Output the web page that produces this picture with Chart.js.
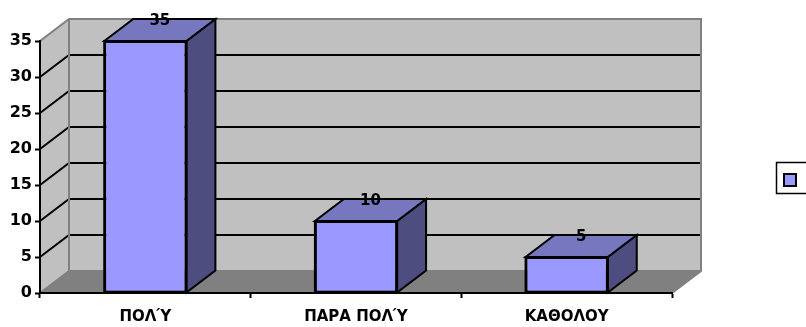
<!DOCTYPE html>
<html>
<head>
<meta charset="utf-8">
<script src="https://cdn.jsdelivr.net/npm/chart.js@4/dist/chart.umd.min.js"></script>
<style>
  body { margin: 0; background: #fff; }
  #wrap { width: 806px; height: 327px; }
</style>
</head>
<body>
<div id="wrap"><canvas id="bar-chart"></canvas></div>
<script>
// data
const categories = ['ΠΟΛΎ', 'ΠΑΡΑ ΠΟΛΎ', 'ΚΑΘΟΛΟΥ'];
const answers = [35, 10, 5];
const yTicks = [0, 5, 10, 15, 20, 25, 30, 35];

// depth of the fake 3d box
const DX = 29, DY = -22;
const FONT = 'DejaVu Sans';

const excel3d = {
  id: 'excel3d',
  beforeDraw(chart) {
    const ctx = chart.ctx;
    const a = chart.chartArea;
    const y = chart.scales.y;
    ctx.save();
    // left wall
    ctx.fillStyle = '#c0c0c0';
    ctx.beginPath();
    ctx.moveTo(a.left, a.bottom);
    ctx.lineTo(a.left, a.top);
    ctx.lineTo(a.left + DX, a.top + DY);
    ctx.lineTo(a.left + DX, a.bottom + DY);
    ctx.closePath();
    ctx.fill();
    // back wall
    ctx.fillRect(a.left + DX, a.top + DY, a.right - a.left, a.bottom - a.top);
    // floor
    ctx.fillStyle = '#808080';
    ctx.beginPath();
    ctx.moveTo(a.left, a.bottom);
    ctx.lineTo(a.left + DX, a.bottom + DY);
    ctx.lineTo(a.right + DX, a.bottom + DY);
    ctx.lineTo(a.right, a.bottom);
    ctx.closePath();
    ctx.fill();

    // gridlines on the walls
    ctx.lineWidth = 2;
    ctx.strokeStyle = '#000';
    yTicks.forEach(v => {
      if (v === 0 || v === y.max) return;
      const py = y.getPixelForValue(v);
      ctx.beginPath();
      ctx.moveTo(a.left, py);
      ctx.lineTo(a.left + DX, py + DY);
      ctx.lineTo(a.right + DX, py + DY);
      ctx.stroke();
    });

    // wall edges
    ctx.strokeStyle = '#808080';
    ctx.beginPath();
    ctx.moveTo(a.left, a.top);
    ctx.lineTo(a.left + DX, a.top + DY);
    ctx.lineTo(a.right + DX, a.top + DY);
    ctx.lineTo(a.right + DX, a.bottom + DY);
    ctx.lineTo(a.right, a.bottom);
    ctx.moveTo(a.left + DX, a.top + DY);
    ctx.lineTo(a.left + DX, a.bottom + DY);
    ctx.lineTo(a.right + DX, a.bottom + DY);
    ctx.moveTo(a.left, a.bottom);
    ctx.lineTo(a.left + DX, a.bottom + DY);
    ctx.stroke();
    ctx.restore();
  },
  afterDatasetsDraw(chart) {
    const ctx = chart.ctx;
    const meta = chart.getDatasetMeta(0);
    ctx.save();
    ctx.lineWidth = 2;
    ctx.strokeStyle = '#000';
    ctx.lineJoin = 'miter';
    meta.data.forEach((bar, i) => {
      const p = bar.getProps(['x', 'y', 'base', 'width'], true);
      const l = p.x - p.width / 2, r = p.x + p.width / 2;
      // side face
      ctx.fillStyle = '#4d4d80';
      ctx.beginPath();
      ctx.moveTo(r, p.y);
      ctx.lineTo(r + DX, p.y + DY);
      ctx.lineTo(r + DX, p.base + DY);
      ctx.lineTo(r, p.base);
      ctx.closePath();
      ctx.fill();
      ctx.stroke();
      // top face
      ctx.fillStyle = '#7777c0';
      ctx.beginPath();
      ctx.moveTo(l, p.y);
      ctx.lineTo(l + DX, p.y + DY);
      ctx.lineTo(r + DX, p.y + DY);
      ctx.lineTo(r, p.y);
      ctx.closePath();
      ctx.fill();
      ctx.stroke();
      // front outline again so the edges are crisp
      ctx.strokeRect(l, p.y, p.width, p.base - p.y);
      // value label
      ctx.fillStyle = '#000';
      ctx.font = 'bold 15px "' + FONT + '"';
      ctx.textAlign = 'center';
      ctx.textBaseline = 'middle';
      ctx.fillText(String(answers[i]), p.x + DX / 2, p.y + DY + 2);
    });
    ctx.restore();
  },
  afterDraw(chart) {
    // legend box with only the swatch (series has no name)
    const ctx = chart.ctx;
    ctx.save();
    ctx.lineWidth = 1.5;
    ctx.strokeStyle = '#000';
    ctx.strokeRect(776.5, 162.5, 40, 31);
    ctx.fillStyle = '#9999ff';
    ctx.lineWidth = 2;
    ctx.fillRect(784, 174, 12, 12);
    ctx.strokeRect(784, 174, 12, 12);
    ctx.restore();
  }
};

const barChart = new Chart(document.getElementById('bar-chart'), {
  type: 'bar',
  data: {
    labels: categories,
    datasets: [{
      label: '',
      data: answers,
      backgroundColor: '#9999ff',
      borderColor: '#000',
      borderWidth: 2,
      borderSkipped: false,
      categoryPercentage: 1,
      barPercentage: 0.39
    }]
  },
  options: {
    responsive: true,
    maintainAspectRatio: false,
    animation: false,
    layout: { padding: { top: 41, right: 134, left: 0, bottom: 0 } },
    plugins: {
      legend: { display: false },
      tooltip: { enabled: false }
    },
    scales: {
      x: {
        afterFit(scale) { scale.height = 34; },
        grid: {
          offset: true,
          drawOnChartArea: false,
          tickLength: 5,
          tickColor: '#000',
          tickWidth: 2
        },
        border: { color: '#000', width: 2 },
        ticks: {
          color: '#000',
          padding: 10,
          font: { family: FONT, size: 15, weight: 'bold' }
        }
      },
      y: {
        min: 0,
        max: 35,
        afterFit(scale) { scale.width = 40; },
        afterBuildTicks(scale) { scale.ticks = yTicks.map(v => ({ value: v })); },
        grid: {
          drawOnChartArea: false,
          tickLength: 5,
          tickColor: '#000',
          tickWidth: 2
        },
        border: { color: '#000', width: 2 },
        ticks: {
          color: '#000',
          padding: 3,
          font: { family: FONT, size: 16, weight: 'bold' }
        }
      }
    }
  },
  plugins: [excel3d]
});
</script>
</body>
</html>
